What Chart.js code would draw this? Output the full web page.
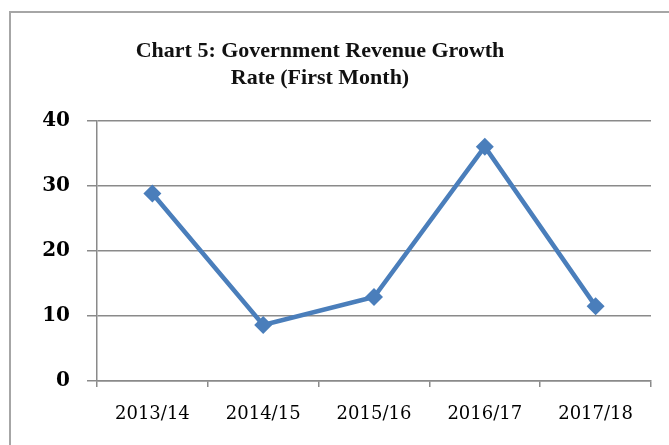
<!DOCTYPE html>
<html>
<head>
<meta charset="utf-8">
<script src="https://cdn.jsdelivr.net/npm/chart.js@4"></script>
<style>
  html, body { margin: 0; padding: 0; background: #fff; overflow: hidden; }
  #wrap { position: relative; width: 669px; height: 445px; }
  #marco {
    position: absolute; left: 9px; top: 11px; width: 700px; height: 500px;
    border-left: 2px solid #a6a6a6; border-top: 2px solid #a6a6a6;
    pointer-events: none;
  }
</style>
</head>
<body>
<div id="wrap">
  <canvas id="grafico" width="669" height="445"></canvas>
  <div id="marco"></div>
</div>
<script>
// datos del grafico
const periodos = ['2013/14', '2014/15', '2015/16', '2016/17', '2017/18'];
const crecimiento = [28.8, 8.6, 12.9, 36.0, 11.5];
const tituloLineas = ['Chart 5: Government Revenue Growth', 'Rate (First Month)'];
const ejeYMin = 0;
const ejeYMax = 40;
const ejeYPaso = 10;

const azul = '#4a7ebb';
const gris = '#8a8a8a';

// mover el titulo un poco a la izquierda como en el original
const tituloCentro = {
    id: 'tituloCentro',
    afterLayout(chart) {
        const t = chart.titleBlock;
        if (t) {
            t.left = 0;
            t.right = 640;
            t.width = 640;
        }
    }
};

const ctx = document.getElementById('grafico').getContext('2d');
new Chart(ctx, {
    type: 'line',
    data: {
        labels: periodos,
        datasets: [{
            label: 'Growth rate',
            data: crecimiento,
            borderColor: azul,
            backgroundColor: azul,
            borderWidth: 4.5,
            pointStyle: 'rectRot',
            pointRadius: 9,
            pointHoverRadius: 9,
            pointBorderWidth: 0,
            tension: 0,
        }],
    },
    options: {
        responsive: false,
        animation: false,
        layout: { padding: { left: 0, right: 18, top: 0, bottom: 0 } },
        plugins: {
            legend: { display: false },
            tooltip: { enabled: false },
            title: {
                display: true,
                text: tituloLineas,
                color: '#111',
                font: { family: 'Liberation Serif', size: 22, weight: 'bold', lineHeight: 1.22 },
                padding: { top: 38, bottom: 29 },
            },
        },
        scales: {
            x: {
                offset: true,
                grid: {
                    offset: true,
                    drawOnChartArea: false,
                    drawTicks: true,
                    tickLength: 6,
                    color: gris,
                    lineWidth: 1.5,
                },
                border: { display: true, color: gris, width: 1.5 },
                ticks: {
                    color: '#000',
                    padding: 17,
                    maxRotation: 0,
                    font: { family: 'DejaVu Serif', size: 18 },
                },
                afterFit(scale) { scale.height = 64; },
            },
            y: {
                min: ejeYMin,
                max: ejeYMax,
                grid: {
                    color: gris,
                    lineWidth: 1.5,
                    tickLength: 10,
                },
                border: { display: true, color: gris, width: 1.5 },
                ticks: {
                    stepSize: ejeYPaso,
                    color: '#000',
                    padding: 17,
                    font: { family: 'DejaVu Serif', size: 20, weight: 'bold' },
                },
                afterFit(scale) { scale.width = 97; },
            },
        },
    },
    plugins: [tituloCentro],
});
</script>
</body>
</html>
